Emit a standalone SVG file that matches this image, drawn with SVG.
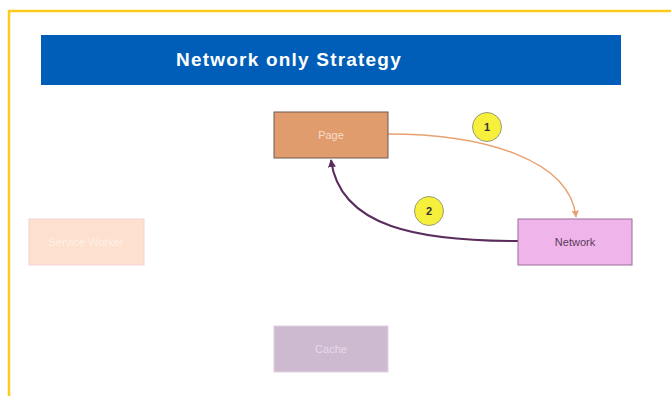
<svg xmlns="http://www.w3.org/2000/svg" width="671" height="396" viewBox="0 0 671 396">
  <style>
    .lbl { font-family: "Liberation Sans", Arial, sans-serif; font-size: 11px; text-anchor: middle; dominant-baseline: central; }
    .box { stroke-width: 1; }
    .badge { fill: #f6ef3c; stroke: #9a9a7a; stroke-width: 1; }
    .num { font-family: "Liberation Sans", Arial, sans-serif; font-size: 11px; font-weight: bold; fill: #333; text-anchor: middle; dominant-baseline: central; }
  </style>
  <defs>
    <marker id="headOrange" viewBox="0 0 10 10" refX="9" refY="5" markerWidth="5" markerHeight="5" orient="auto">
      <path d="M0,0 L10,5 L0,10 z" fill="#e8a06e"/>
    </marker>
    <marker id="headPurple" viewBox="0 0 10 10" refX="9" refY="5" markerWidth="4" markerHeight="4" orient="auto">
      <path d="M0,0 L10,5 L0,10 z" fill="#5b2d5c"/>
    </marker>
  </defs>

  <rect width="671" height="396" fill="#ffffff"/>

  <!-- frame -->
  <path d="M9,400 L9,11 L680,11" fill="none" stroke="#fccb1c" stroke-width="2.5"/>

  <!-- title banner -->
  <g id="title">
    <rect x="41" y="35" width="580" height="50" fill="#005eb8"/>
    <text x="289" y="59" font-family="Liberation Sans, Arial, sans-serif" font-size="19" font-weight="bold" letter-spacing="1.2" fill="#ffffff" text-anchor="middle" dominant-baseline="central">Network only Strategy</text>
  </g>

  <!-- connectors -->
  <g id="connectors" fill="none">
    <path d="M388,134 C485,134 570,160 576,217" stroke="#e8a06e" stroke-width="1.4" marker-end="url(#headOrange)"/>
    <path d="M518,241 C420,241 340,228 331,160" stroke="#5b2d5c" stroke-width="2" marker-end="url(#headPurple)"/>
  </g>

  <g id="page">
    <rect class="box" x="274" y="112" width="114" height="46" fill="#e09c6c" stroke="#6e5a50"/>
    <text class="lbl" x="331" y="135" fill="#f6dccb">Page</text>
  </g>

  <g id="network">
    <rect class="box" x="518" y="219" width="114" height="46" fill="#efb5ea" stroke="#9a6d98"/>
    <text class="lbl" x="575" y="242" fill="#5a3a5c">Network</text>
  </g>

  <g id="service-worker">
    <rect class="box" x="29" y="219" width="115" height="46" fill="#fde0cd" stroke="#f4d2d8"/>
    <text class="lbl" x="86" y="242" fill="#fdf0e8">Service Worker</text>
  </g>

  <g id="cache">
    <rect class="box" x="274" y="326" width="114" height="46" fill="#cdb9d0" stroke="#e2d0e4"/>
    <text class="lbl" x="331" y="349" fill="#e6dbe8">Cache</text>
  </g>

  <g id="step-1">
    <circle class="badge" cx="487" cy="127" r="14.5"/>
    <text class="num" x="487" y="127">1</text>
  </g>

  <g id="step-2">
    <circle class="badge" cx="429" cy="211" r="14.5"/>
    <text class="num" x="429" y="211">2</text>
  </g>
</svg>
